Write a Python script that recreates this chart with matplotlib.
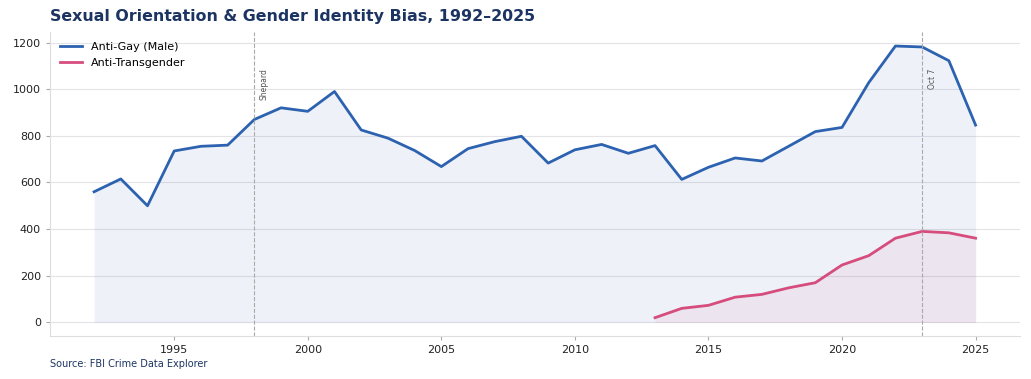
import numpy as np
import matplotlib.pyplot as plt

# donnees
years = np.arange(1992, 2026)
anti_gay = [560, 615, 500, 735, 755, 760, 870, 920, 905, 990,
            825, 790, 737, 668, 745, 775, 798, 683, 740, 763,
            725, 758, 613, 665, 705, 692, 755, 818, 836, 1028,
            1185, 1181, 1122, 846]
trans_years = np.arange(2013, 2026)
anti_trans = [20, 60, 73, 108, 120, 148, 170, 246, 286, 361, 390, 384, 361]

events = [(1998, "Shepard"), (2023, "Oct 7")]

blue = "#2c62b0"
pink = "#d64c7c"
navy = "#1c3461"

fig, ax = plt.subplots(figsize=(10.31, 3.79), dpi=100)
fig.subplots_adjust(left=0.0485, right=0.989, top=0.915, bottom=0.113)

ax.fill_between(years, anti_gay, color=blue, alpha=0.08, linewidth=0)
ax.plot(years, anti_gay, color=blue, lw=2, label="Anti-Gay (Male)")
ax.fill_between(trans_years, anti_trans, color=pink, alpha=0.08, linewidth=0)
ax.plot(trans_years, anti_trans, color=pink, lw=2, label="Anti-Transgender")

for yr, txt in events:
    ax.axvline(yr, color="#aaaaaa", ls="--", lw=0.8)
    ax.text(yr + 0.2, 1090, txt, rotation=90, fontsize=5.5, color="#555555",
            ha="left", va="top")

ax.set_yticks([0, 200, 400, 600, 800, 1000, 1200])
ax.grid(axis="y", color="#e3e3e8", lw=0.8)
ax.set_axisbelow(True)
for s in ["top", "right"]:
    ax.spines[s].set_visible(False)
for s in ["left", "bottom"]:
    ax.spines[s].set_color("#dddddd")
ax.tick_params(labelsize=8, colors="#222222", length=3)
ax.tick_params(color="#aaaaaa")

ax.legend(loc="upper left", frameon=False, fontsize=8)

fig.text(0.0485, 0.957, "Sexual Orientation & Gender Identity Bias, 1992\u20132025",
         fontsize=11.4, fontweight="bold", color=navy, ha="left", va="center")
fig.text(0.0485, 0.04, "Source: FBI Crime Data Explorer", fontsize=7, color=navy,
         ha="left", va="center")

fig.savefig("out.png", dpi=100)
